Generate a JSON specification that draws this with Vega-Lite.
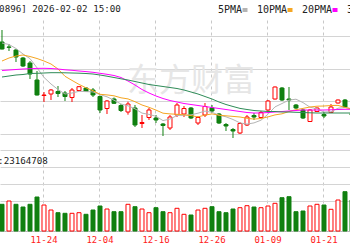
{
"$schema": "https://vega.github.io/schema/vega-lite/v6.json",
"width": 350, "height": 211,
"autosize": {"type": "none"},
"padding": {"left": 0, "top": 20, "right": 0, "bottom": 19},
"background": "#ffffff",
"config": {"view": {"stroke": null}, "font": "DejaVu Sans Mono"},
"title": {"text": "[000896] 2026-02-02 15:00", "anchor": "start", "frame": "group", "dx": -17.5, "dy": 24, "offset": 8, "baseline": "alphabetic", "font": "DejaVu Sans Mono", "fontSize": 9.2, "fontWeight": "normal", "color": "#222222"},
"data": {"values": [
{"d":"2025-11-14","o":6.92,"h":7.04,"l":6.845,"c":6.85,"dir":"down","v":26700000,"vd":"down","5PMA":6.91,"10PMA":6.73,"20PMA":6.635,"30PMA":6.57},
{"d":"2025-11-17","o":6.87,"h":6.90,"l":6.83,"c":6.867,"dir":"down","v":30000000,"vd":"up","5PMA":6.895,"10PMA":6.76,"20PMA":6.64,"30PMA":6.58},
{"d":"2025-11-18","o":6.84,"h":6.85,"l":6.72,"c":6.77,"dir":"down","v":26700000,"vd":"down","5PMA":6.855,"10PMA":6.78,"20PMA":6.645,"30PMA":6.59},
{"d":"2025-11-19","o":6.76,"h":6.77,"l":6.67,"c":6.68,"dir":"down","v":24000000,"vd":"down","5PMA":6.80,"10PMA":6.79,"20PMA":6.65,"30PMA":6.595},
{"d":"2025-11-20","o":6.71,"h":6.73,"l":6.55,"c":6.60,"dir":"down","v":26700000,"vd":"down","5PMA":6.754,"10PMA":6.775,"20PMA":6.653,"30PMA":6.605},
{"d":"2025-11-21","o":6.54,"h":6.63,"l":6.385,"c":6.39,"dir":"down","v":34000000,"vd":"down","5PMA":6.662,"10PMA":6.755,"20PMA":6.656,"30PMA":6.607},
{"d":"2025-11-24","o":6.385,"h":6.42,"l":6.32,"c":6.39,"dir":"up","v":26000000,"vd":"up","5PMA":6.566,"10PMA":6.73,"20PMA":6.657,"30PMA":6.61},
{"d":"2025-11-25","o":6.40,"h":6.45,"l":6.34,"c":6.44,"dir":"up","v":21000000,"vd":"up","5PMA":6.50,"10PMA":6.70,"20PMA":6.655,"30PMA":6.613},
{"d":"2025-11-26","o":6.425,"h":6.48,"l":6.37,"c":6.405,"dir":"down","v":18300000,"vd":"down","5PMA":6.445,"10PMA":6.65,"20PMA":6.65,"30PMA":6.613},
{"d":"2025-11-27","o":6.41,"h":6.43,"l":6.33,"c":6.375,"dir":"down","v":17700000,"vd":"down","5PMA":6.40,"10PMA":6.577,"20PMA":6.642,"30PMA":6.612},
{"d":"2025-11-28","o":6.365,"h":6.46,"l":6.32,"c":6.44,"dir":"up","v":17700000,"vd":"up","5PMA":6.41,"10PMA":6.536,"20PMA":6.637,"30PMA":6.61},
{"d":"2025-12-01","o":6.435,"h":6.48,"l":6.43,"c":6.473,"dir":"up","v":18300000,"vd":"up","5PMA":6.427,"10PMA":6.496,"20PMA":6.63,"30PMA":6.608},
{"d":"2025-12-02","o":6.46,"h":6.47,"l":6.42,"c":6.425,"dir":"down","v":16700000,"vd":"down","5PMA":6.424,"10PMA":6.462,"20PMA":6.624,"30PMA":6.605},
{"d":"2025-12-03","o":6.44,"h":6.46,"l":6.37,"c":6.39,"dir":"down","v":21000000,"vd":"down","5PMA":6.421,"10PMA":6.433,"20PMA":6.617,"30PMA":6.60},
{"d":"2025-12-04","o":6.375,"h":6.385,"l":6.21,"c":6.24,"dir":"down","v":25000000,"vd":"down","5PMA":6.394,"10PMA":6.397,"20PMA":6.607,"30PMA":6.59},
{"d":"2025-12-05","o":6.255,"h":6.34,"l":6.20,"c":6.33,"dir":"up","v":22000000,"vd":"up","5PMA":6.372,"10PMA":6.391,"20PMA":6.597,"30PMA":6.578},
{"d":"2025-12-08","o":6.35,"h":6.365,"l":6.30,"c":6.307,"dir":"down","v":19300000,"vd":"down","5PMA":6.338,"10PMA":6.382,"20PMA":6.585,"30PMA":6.565},
{"d":"2025-12-09","o":6.285,"h":6.30,"l":6.22,"c":6.235,"dir":"down","v":19300000,"vd":"down","5PMA":6.30,"10PMA":6.362,"20PMA":6.565,"30PMA":6.552},
{"d":"2025-12-10","o":6.22,"h":6.323,"l":6.193,"c":6.30,"dir":"up","v":26700000,"vd":"up","5PMA":6.282,"10PMA":6.351,"20PMA":6.53,"30PMA":6.54},
{"d":"2025-12-11","o":6.26,"h":6.29,"l":6.07,"c":6.09,"dir":"down","v":24300000,"vd":"down","5PMA":6.252,"10PMA":6.323,"20PMA":6.49,"30PMA":6.525},
{"d":"2025-12-12","o":6.105,"h":6.19,"l":6.06,"c":6.115,"dir":"up","v":22000000,"vd":"up","5PMA":6.209,"10PMA":6.29,"20PMA":6.445,"30PMA":6.51},
{"d":"2025-12-15","o":6.165,"h":6.26,"l":6.14,"c":6.24,"dir":"up","v":18300000,"vd":"up","5PMA":6.196,"10PMA":6.267,"20PMA":6.41,"30PMA":6.495},
{"d":"2025-12-16","o":6.16,"h":6.19,"l":6.11,"c":6.14,"dir":"down","v":23300000,"vd":"down","5PMA":6.177,"10PMA":6.239,"20PMA":6.38,"30PMA":6.485},
{"d":"2025-12-17","o":6.10,"h":6.11,"l":5.98,"c":6.085,"dir":"down","v":19300000,"vd":"down","5PMA":6.134,"10PMA":6.208,"20PMA":6.355,"30PMA":6.475},
{"d":"2025-12-18","o":6.06,"h":6.19,"l":6.04,"c":6.17,"dir":"up","v":18300000,"vd":"up","5PMA":6.15,"10PMA":6.201,"20PMA":6.335,"30PMA":6.465},
{"d":"2025-12-19","o":6.19,"h":6.31,"l":6.17,"c":6.29,"dir":"up","v":22700000,"vd":"up","5PMA":6.185,"10PMA":6.197,"20PMA":6.32,"30PMA":6.455},
{"d":"2025-12-22","o":6.20,"h":6.28,"l":6.17,"c":6.255,"dir":"up","v":16700000,"vd":"up","5PMA":6.188,"10PMA":6.192,"20PMA":6.305,"30PMA":6.44},
{"d":"2025-12-23","o":6.26,"h":6.27,"l":6.15,"c":6.16,"dir":"down","v":16000000,"vd":"down","5PMA":6.192,"10PMA":6.184,"20PMA":6.295,"30PMA":6.42},
{"d":"2025-12-24","o":6.11,"h":6.18,"l":6.09,"c":6.165,"dir":"up","v":21000000,"vd":"up","5PMA":6.208,"10PMA":6.171,"20PMA":6.285,"30PMA":6.40},
{"d":"2025-12-25","o":6.19,"h":6.31,"l":6.17,"c":6.275,"dir":"up","v":22700000,"vd":"up","5PMA":6.229,"10PMA":6.189,"20PMA":6.275,"30PMA":6.375},
{"d":"2025-12-26","o":6.26,"h":6.29,"l":6.21,"c":6.23,"dir":"down","v":24300000,"vd":"down","5PMA":6.217,"10PMA":6.201,"20PMA":6.265,"30PMA":6.35},
{"d":"2025-12-29","o":6.20,"h":6.21,"l":6.10,"c":6.11,"dir":"down","v":19300000,"vd":"down","5PMA":6.188,"10PMA":6.188,"20PMA":6.255,"30PMA":6.32},
{"d":"2025-12-30","o":6.095,"h":6.11,"l":6.03,"c":6.08,"dir":"down","v":18300000,"vd":"down","5PMA":6.172,"10PMA":6.182,"20PMA":6.245,"30PMA":6.295},
{"d":"2025-12-31","o":6.045,"h":6.06,"l":5.96,"c":6.03,"dir":"down","v":22000000,"vd":"down","5PMA":6.145,"10PMA":6.176,"20PMA":6.235,"30PMA":6.275},
{"d":"2026-01-05","o":6.01,"h":6.12,"l":6.00,"c":6.105,"dir":"up","v":23300000,"vd":"up","5PMA":6.111,"10PMA":6.17,"20PMA":6.225,"30PMA":6.256},
{"d":"2026-01-06","o":6.09,"h":6.19,"l":6.08,"c":6.17,"dir":"up","v":25300000,"vd":"up","5PMA":6.099,"10PMA":6.157,"20PMA":6.215,"30PMA":6.245},
{"d":"2026-01-07","o":6.185,"h":6.21,"l":6.14,"c":6.17,"dir":"down","v":24000000,"vd":"down","5PMA":6.111,"10PMA":6.149,"20PMA":6.21,"30PMA":6.235},
{"d":"2026-01-08","o":6.165,"h":6.23,"l":6.16,"c":6.215,"dir":"up","v":23300000,"vd":"up","5PMA":6.138,"10PMA":6.155,"20PMA":6.21,"30PMA":6.23},
{"d":"2026-01-09","o":6.24,"h":6.34,"l":6.23,"c":6.33,"dir":"up","v":25000000,"vd":"up","5PMA":6.198,"10PMA":6.171,"20PMA":6.215,"30PMA":6.225},
{"d":"2026-01-12","o":6.35,"h":6.475,"l":6.345,"c":6.47,"dir":"up","v":27700000,"vd":"up","5PMA":6.271,"10PMA":6.191,"20PMA":6.22,"30PMA":6.225},
{"d":"2026-01-13","o":6.46,"h":6.47,"l":6.33,"c":6.34,"dir":"down","v":33300000,"vd":"down","5PMA":6.305,"10PMA":6.202,"20PMA":6.225,"30PMA":6.22},
{"d":"2026-01-14","o":6.35,"h":6.47,"l":6.24,"c":6.34,"dir":"down","v":34300000,"vd":"down","5PMA":6.339,"10PMA":6.225,"20PMA":6.23,"30PMA":6.22},
{"d":"2026-01-15","o":6.29,"h":6.30,"l":6.25,"c":6.26,"dir":"down","v":19300000,"vd":"down","5PMA":6.348,"10PMA":6.243,"20PMA":6.235,"30PMA":6.217},
{"d":"2026-01-16","o":6.24,"h":6.25,"l":6.15,"c":6.16,"dir":"down","v":20000000,"vd":"down","5PMA":6.314,"10PMA":6.256,"20PMA":6.24,"30PMA":6.215},
{"d":"2026-01-19","o":6.125,"h":6.25,"l":6.12,"c":6.24,"dir":"up","v":25000000,"vd":"up","5PMA":6.268,"10PMA":6.27,"20PMA":6.24,"30PMA":6.212},
{"d":"2026-01-20","o":6.225,"h":6.265,"l":6.22,"c":6.26,"dir":"up","v":26700000,"vd":"up","5PMA":6.252,"10PMA":6.278,"20PMA":6.24,"30PMA":6.21},
{"d":"2026-01-21","o":6.195,"h":6.22,"l":6.16,"c":6.18,"dir":"down","v":26000000,"vd":"down","5PMA":6.22,"10PMA":6.28,"20PMA":6.24,"30PMA":6.21},
{"d":"2026-01-22","o":6.215,"h":6.30,"l":6.21,"c":6.27,"dir":"up","v":21700000,"vd":"up","5PMA":6.222,"10PMA":6.285,"20PMA":6.242,"30PMA":6.21},
{"d":"2026-01-23","o":6.31,"h":6.345,"l":6.305,"c":6.34,"dir":"up","v":31000000,"vd":"up","5PMA":6.258,"10PMA":6.286,"20PMA":6.245,"30PMA":6.21},
{"d":"2026-01-26","o":6.34,"h":6.35,"l":6.26,"c":6.27,"dir":"down","v":39300000,"vd":"down","5PMA":6.264,"10PMA":6.266,"20PMA":6.247,"30PMA":6.21},
{"d":"2026-01-27","o":6.205,"h":6.23,"l":6.17,"c":6.19,"dir":"down","v":31000000,"vd":"down","5PMA":6.25,"10PMA":6.251,"20PMA":6.247,"30PMA":6.21}
]},
"encoding": {
  "x": {"field": "d", "type": "ordinal", "sort": null,
    "scale": {"domain": ["2025-11-14","2025-11-17","2025-11-18","2025-11-19","2025-11-20","2025-11-21","2025-11-24","2025-11-25","2025-11-26","2025-11-27","2025-11-28","2025-12-01","2025-12-02","2025-12-03","2025-12-04","2025-12-05","2025-12-08","2025-12-09","2025-12-10","2025-12-11","2025-12-12","2025-12-15","2025-12-16","2025-12-17","2025-12-18","2025-12-19","2025-12-22","2025-12-23","2025-12-24","2025-12-25","2025-12-26","2025-12-29","2025-12-30","2025-12-31","2026-01-05","2026-01-06","2026-01-07","2026-01-08","2026-01-09","2026-01-12","2026-01-13","2026-01-14","2026-01-15","2026-01-16","2026-01-19","2026-01-20","2026-01-21","2026-01-22","2026-01-23","2026-01-26","2026-01-27"],
      "range": [0, 357], "paddingInner": 0.4286, "paddingOuter": 0.2143, "align": 0},
    "axis": {"values": ["2025-11-24","2025-12-04","2025-12-16","2025-12-26","2026-01-09","2026-01-21"], "labelExpr": "slice(datum.value, 5)", "grid": true, "gridDash": [3, 3], "gridColor": "#c8c8c8", "ticks": false, "domain": true, "domainColor": "#b8b8b8", "labelColor": "#ff2020", "labelFont": "DejaVu Sans Mono", "labelFontSize": 9, "labelPadding": 4, "labelAngle": 0, "title": null, "tickBand": "center"}}
},
"layer": [
  {
    "layer": [
      {"data": {"values": [{"t": "东方财富"}]},
       "mark": {"type": "text", "font": "Noto Sans CJK SC", "fontSize": 32, "color": "#e6e6e6", "align": "center", "baseline": "middle"},
       "encoding": {"x": {"datum": "2025-12-23", "type": "ordinal"}, "y": {"datum": 6.53, "type": "quantitative", "scale": {"domain": [5.03, 7.14], "nice": false, "zero": false}}, "text": {"field": "t"}}},
      {"mark": {"type": "rule", "strokeWidth": 1},
       "encoding": {
         "y": {"field": "l", "type": "quantitative", "scale": {"domain": [5.03, 7.14], "nice": false, "zero": false},
               "axis": {"orient": "left", "values": [6.0, 6.16286, 6.32571, 6.48857, 6.65143, 6.81429, 6.97714, 7.14], "grid": true, "gridColor": "#d4d4d4", "labels": false, "ticks": false, "domain": false, "title": null}},
         "y2": {"field": "h"},
         "stroke": {"field": "dir", "type": "nominal", "scale": {"domain": ["up", "down"], "range": ["#ff0000", "#108010"]}, "legend": null}}},
      {"mark": {"type": "bar", "width": 4, "strokeWidth": 1},
       "encoding": {
         "y": {"field": "o", "type": "quantitative", "scale": {"domain": [5.03, 7.14], "nice": false, "zero": false}},
         "y2": {"field": "c"},
         "fill": {"field": "dir", "type": "nominal", "scale": {"domain": ["up", "down"], "range": ["#ffffff", "#108010"]}, "legend": null},
         "stroke": {"field": "dir", "type": "nominal", "legend": null}}},
      {"transform": [{"fold": ["5PMA", "10PMA", "20PMA", "30PMA"], "as": ["ma", "val"]}],
       "mark": {"type": "line", "strokeWidth": 1},
       "encoding": {
         "y": {"field": "val", "type": "quantitative", "scale": {"domain": [5.03, 7.14], "nice": false, "zero": false}},
         "color": {"field": "ma", "type": "nominal", "sort": null,
           "scale": {"domain": ["5PMA", "10PMA", "20PMA", "30PMA"], "range": ["#b4b4b4", "#f5a623", "#ff00ff", "#2e8b57"]},
           "legend": {"orient": "none", "legendX": 240, "legendY": -15, "direction": "horizontal", "title": null, "symbolType": "stroke", "symbolSize": 25, "symbolStrokeWidth": 4, "labelFont": "DejaVu Sans Mono", "labelFontSize": 10, "labelColor": "#222222", "labelAlign": "right", "labelOffset": -8, "columnPadding": 0, "padding": 0}}}}
    ]
  },
  {"mark": {"type": "bar", "width": 4, "strokeWidth": 1},
   "encoding": {
     "y": {"field": "v", "type": "quantitative", "scale": {"domain": [0, 211000000], "nice": false},
           "axis": {"orient": "left", "values": [0, 30000000, 47000000, 64000000, 81000000], "grid": true, "gridColor": "#d4d4d4", "labels": false, "ticks": false, "domain": false,
                    "title": "VOL:23164708", "titleAngle": 0, "titleX": -19, "titleY": 143.5, "titleAlign": "left", "titleBaseline": "alphabetic", "titleFont": "DejaVu Sans Mono", "titleFontSize": 9.2, "titleFontWeight": "normal", "titleColor": "#222222"}},
     "fill": {"field": "vd", "type": "nominal", "legend": null},
     "stroke": {"field": "vd", "type": "nominal", "legend": null}}}
],
"resolve": {"scale": {"y": "independent"}}
}
